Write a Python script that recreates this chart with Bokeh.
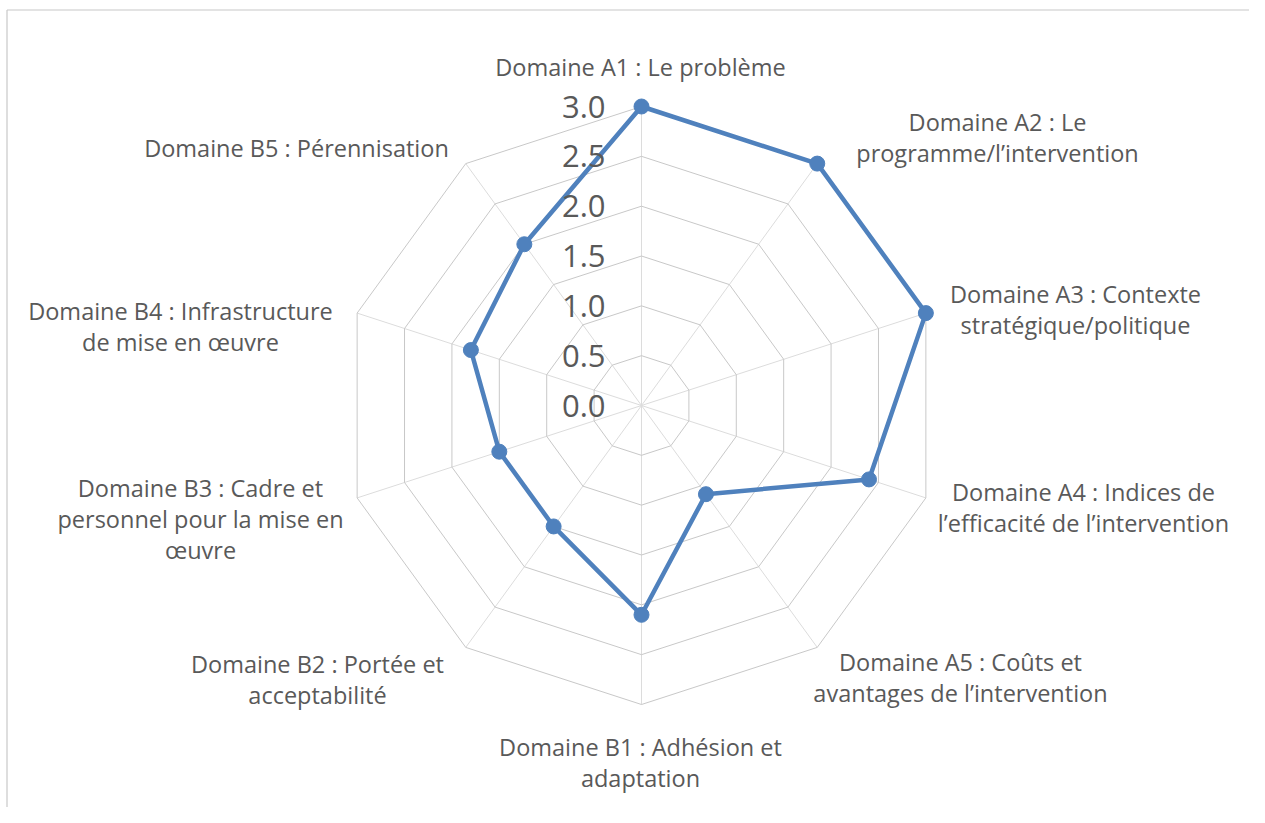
import math
from bokeh.plotting import figure
from bokeh.models import Range1d, ColumnDataSource
from bokeh.core.properties import value
from bokeh.embed import file_html
from bokeh.resources import INLINE

# ---------------- data ----------------
categories = [
    "Domaine A1 : Le problème",
    "Domaine A2 : Le programme/l’intervention",
    "Domaine A3 : Contexte stratégique/politique",
    "Domaine A4 : Indices de l’efficacité de l’intervention",
    "Domaine A5 : Coûts et avantages de l’intervention",
    "Domaine B1 : Adhésion et adaptation",
    "Domaine B2 : Portée et acceptabilité",
    "Domaine B3 : Cadre et personnel pour la mise en œuvre",
    "Domaine B4 : Infrastructure de mise en œuvre",
    "Domaine B5 : Pérennisation",
]
label_lines = [
    ["Domaine A1 : Le problème"],
    ["Domaine A2 : Le", "programme/l’intervention"],
    ["Domaine A3 : Contexte", "stratégique/politique"],
    ["Domaine A4 : Indices de", "l’efficacité de l’intervention"],
    ["Domaine A5 : Coûts et", "avantages de l’intervention"],
    ["Domaine B1 : Adhésion et", "adaptation"],
    ["Domaine B2 : Portée et", "acceptabilité"],
    ["Domaine B3 : Cadre et", "personnel pour la mise en", "œuvre"],
    ["Domaine B4 : Infrastructure", "de mise en œuvre"],
    ["Domaine B5 : Pérennisation"],
]
scores = [3.0, 3.0, 3.0, 2.4, 1.1, 2.1, 1.5, 1.5, 1.8, 2.0]
tick_values = [0.0, 0.5, 1.0, 1.5, 2.0, 2.5, 3.0]
tick_labels = ["0.0", "0.5", "1.0", "1.5", "2.0", "2.5", "3.0"]

# ---------------- layout ----------------
W, H = 1249, 807
CX, CY = 641, 405           # centre of the radar in canvas pixels
PX = 299 / 3.0              # pixels per unit
TEXT = "#595959"
BLUE = "#4f81bd"
FONT = "Open Sans"

# label block centres, pixel offsets from radar centre (dx right, dy up)
label_offsets = [(-1, 339), (356, 268), (434, 96), (442, -102), (319, -272),
                 (-1, -357), (-324, -274), (-441, -113), (-461, 79), (-345, 258)]
LINE_H = 31

def px(dx):
    return dx / PX

p = figure(width=W, height=H, output_backend="svg", toolbar_location=None,
           x_range=Range1d(-CX / PX, (W - CX) / PX),
           y_range=Range1d(-(H - CY) / PX, CY / PX),
           min_border=0, outline_line_color=None)
p.axis.visible = False
p.grid.visible = False
p.background_fill_color = "white"
p.border_fill_color = "white"

n = len(categories)
angles = [math.pi / 2 - 2 * math.pi * i / n for i in range(n)]

# frame (top and left edges visible in the reference)
x_left = px(6.5 - CX)
y_top = px(CY - 9.5)
p.segment(x0=[x_left, x_left], y0=[y_top, y_top],
          x1=[x_left, (W - CX) / PX], y1=[-(H - CY) / PX, y_top],
          line_color="#c8c8c8", line_width=1.2)

# spokes
top = tick_values[-1]
p.segment(x0=[0] * n, y0=[0] * n,
          x1=[top * math.cos(a) for a in angles],
          y1=[top * math.sin(a) for a in angles],
          line_color="#dcdcdc", line_width=1)

# rings
for v in tick_values[1:]:
    xs = [v * math.cos(a) for a in angles] + [v * math.cos(angles[0])]
    ys = [v * math.sin(a) for a in angles] + [v * math.sin(angles[0])]
    p.line(xs, ys, line_color="#c8c8c8", line_width=1)

# series
sx = [s * math.cos(a) for s, a in zip(scores, angles)]
sy = [s * math.sin(a) for s, a in zip(scores, angles)]
src = ColumnDataSource(dict(x=sx, y=sy, cat=categories, score=scores))
p.line(sx + [sx[0]], sy + [sy[0]], line_color=BLUE, line_width=4.5)
p.scatter("x", "y", source=src, size=15, fill_color=BLUE, line_color=BLUE)

# radial tick labels
p.text(x=[px(-36)] * len(tick_values), y=tick_values, text=tick_labels,
       text_align="right", text_baseline="middle", text_color=TEXT,
       text_font=value(FONT), text_font_size="31px")

# category labels
tx, ty, tt = [], [], []
for lines, (dx, dy) in zip(label_lines, label_offsets):
    k = len(lines)
    for j, line in enumerate(lines):
        tx.append(px(dx))
        ty.append(px(dy + ((k - 1) / 2 - j) * LINE_H))
        tt.append(line)
p.text(x=tx, y=ty, text=tt, text_align="center", text_baseline="middle",
       text_color=TEXT, text_font=value(FONT), text_font_size="23.5px")

open("out.html", "w").write(file_html(p, INLINE))
